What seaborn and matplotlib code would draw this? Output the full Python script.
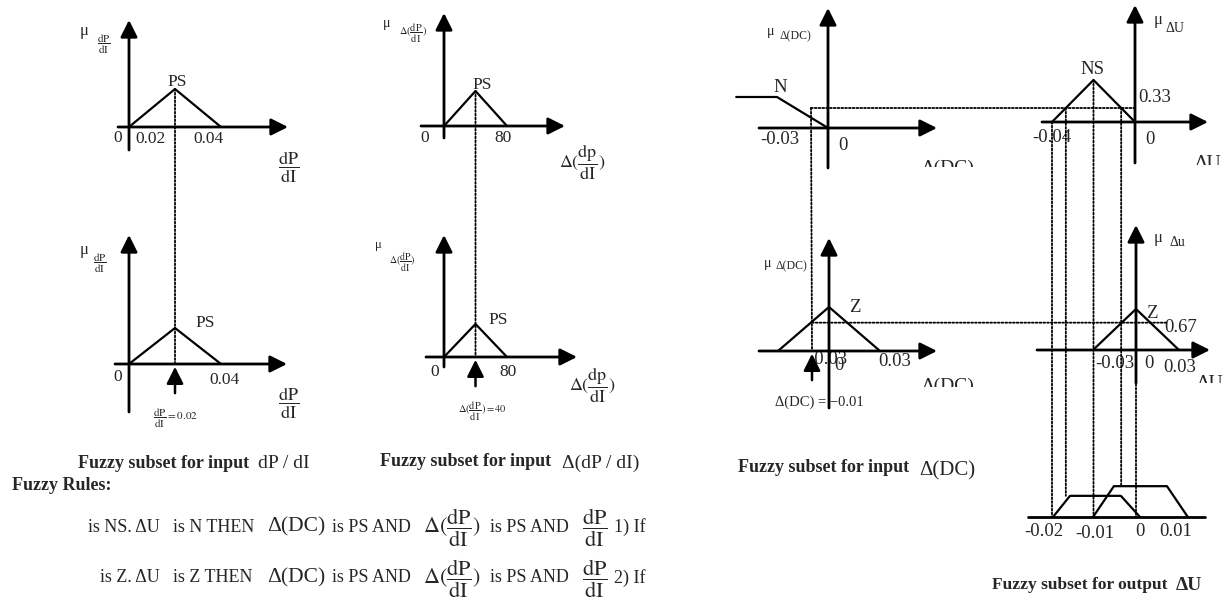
import numpy as np
import seaborn as sns
import matplotlib.pyplot as plt
from matplotlib.patches import ConnectionPatch
from matplotlib.transforms import blended_transform_factory

# membership functions (value, degree)
dpdi_x = [0, 0.02, 0.04]
dpdi_mu = [0, 1, 0]
ddpdi_x = [0, 40, 80]
ddpdi_mu = [0, 1, 0]
dc_n_x = [-0.054, -0.03, 0]
dc_n_mu = [1, 1, 0]
dc_z_x = [-0.03, 0, 0.03]
dc_z_mu = [0, 1, 0]
du_ns_x = [-0.04, -0.02, 0]
du_ns_mu = [0, 1, 0]
du_z_x = [-0.03, 0, 0.03]
du_z_mu = [0, 1, 0]
# clipped output sets (bottom right)
out1_x = [-0.02, -0.0161, -0.0044, 0]
out1_mu = [0, 0.46, 0.46, 0]
out2_x = [-0.0108, -0.006, 0.0062, 0.011]
out2_mu = [0, 0.67, 0.67, 0]
out_ticks = [-0.02, -0.01, 0, 0.01]

# crisp inputs
dpdi_in = 0.02
ddpdi_in = 40
dc_in = -0.01
z_line_end = 0.022

ns_level = np.interp(dc_in, dc_n_x, dc_n_mu)   # 0.33
z_level = np.interp(dc_in, dc_z_x, dc_z_mu)    # 0.67

sns.set_style('white')
plt.rcParams['font.family'] = ['Liberation Serif', 'DejaVu Serif']
plt.rcParams['mathtext.fontset'] = 'stix'

W, H = 1226, 614
fig = plt.figure(figsize=(W / 100, H / 100), dpi=100)
ov = fig.add_axes([0, 0, 1, 1])
ov.set_xlim(0, W)
ov.set_ylim(H, 0)
ov.axis('off')


def panel(box, origin, sx, sy, xs, ys):
    l, t, r, b = box
    ax = fig.add_axes([l / W, 1 - b / H, (r - l) / W, (b - t) / H])
    sns.lineplot(x=xs, y=ys, ax=ax, sort=False, estimator=None,
                 color='black', linewidth=1.6)
    ox, oy = origin
    ax.set_xlim((l - ox) / sx, (r - ox) / sx)
    ax.set_ylim((oy - b) / sy, (oy - t) / sy)
    ax.axis('off')
    return ax


head = '-|>,head_length=0.6,head_width=0.3'


def axis_arrow(x0, y0, x1, y1):
    ov.annotate('', xy=(x1, y1), xytext=(x0, y0),
                arrowprops=dict(arrowstyle=head, mutation_scale=17, lw=2,
                                color='black', shrinkA=0, shrinkB=0))


def input_arrow(ax, x):
    ax.annotate('', xy=(x, 0), xytext=(0, -21), textcoords='offset points',
                arrowprops=dict(arrowstyle=head, mutation_scale=17, lw=1.8,
                                color='black', shrinkA=0, shrinkB=2),
                annotation_clip=False)


def dotted(xyA, trA, xyB, trB):
    fig.add_artist(ConnectionPatch(xyA=xyA, coordsA=trA, xyB=xyB, coordsB=trB,
                                   linestyle=(0, (1, 1.1)), lw=1.3, color='black'))


def t(x, y, s, fs, **kw):
    kw.setdefault('ha', 'center')
    kw.setdefault('va', 'center')
    return ov.text(x, y, s, fontsize=fs, **kw)


F = r'$\dfrac{\mathrm{dP}}{\mathrm{dI}}$'
DF = r'$\Delta(\dfrac{\mathrm{dP}}{\mathrm{dI}})$'
DFp = r'$\Delta(\dfrac{\mathrm{dp}}{\mathrm{dI}})$'

# ---------- panels ----------
ax1 = panel((60, 0, 330, 200), (129, 127), 2300, 38, dpdi_x, dpdi_mu)
ax3 = panel((60, 215, 330, 430), (129, 364), 2300, 36, dpdi_x, dpdi_mu)
ax2 = panel((360, 0, 640, 200), (444, 126), 0.7875, 35, ddpdi_x, ddpdi_mu)
ax4 = panel((360, 215, 640, 430), (444, 357), 0.7875, 33, ddpdi_x, ddpdi_mu)
ax5 = panel((700, 0, 1000, 167), (828, 128), 1700, 31, dc_n_x, dc_n_mu)
ax6 = panel((1000, 0, 1226, 165), (1135, 122), 2075, 42, du_ns_x, du_ns_mu)
ax7 = panel((700, 200, 1000, 387), (829, 351), 1700, 44, dc_z_x, dc_z_mu)
ax8 = panel((1000, 200, 1226, 383), (1136, 350), 1433, 41, du_z_x, du_z_mu)
ax9 = panel((1000, 440, 1226, 560), (1140, 517), 4350, 46, out1_x, out1_mu)
sns.lineplot(x=out2_x, y=out2_mu, ax=ax9, sort=False, estimator=None,
             color='black', linewidth=1.6)

# axes with arrow heads
axis_arrow(118, 127, 288, 127); axis_arrow(129, 150, 129, 20)
axis_arrow(421, 126, 565, 126); axis_arrow(444, 138, 444, 13)
axis_arrow(115, 364, 287, 364); axis_arrow(129, 412, 129, 235)
axis_arrow(426, 357, 577, 357); axis_arrow(444, 367, 444, 235)
axis_arrow(759, 128, 937, 128); axis_arrow(828, 168, 828, 8)
axis_arrow(1042, 122, 1208, 122); axis_arrow(1135, 163, 1135, 5)
axis_arrow(759, 351, 937, 351); axis_arrow(829, 408, 829, 238)
axis_arrow(1037, 350, 1210, 350); axis_arrow(1136, 383, 1136, 225)
ov.plot([1028, 1205], [517, 517], color='black', lw=2)

# crisp input arrows
input_arrow(ax3, dpdi_in)
input_arrow(ax4, ddpdi_in)
input_arrow(ax7, dc_in)

# projection lines
dotted((dpdi_in, np.interp(dpdi_in, dpdi_x, dpdi_mu)), ax1.transData,
       (dpdi_in, 0), ax3.transData)
dotted((ddpdi_in, np.interp(ddpdi_in, ddpdi_x, ddpdi_mu)), ax2.transData,
       (ddpdi_in, 0), ax4.transData)
tr56 = blended_transform_factory(ax5.transData, ax6.transData)
tr78 = blended_transform_factory(ax7.transData, ax8.transData)
tr69 = blended_transform_factory(ax6.transData, ax9.transData)
tr89 = blended_transform_factory(ax8.transData, ax9.transData)
dotted((dc_in, ns_level), tr56, (0, ns_level), ax6.transData)
dotted((dc_in, ns_level), tr56, (dc_in, 0), ax7.transData)
dotted((dc_in, z_level), tr78, (z_line_end, z_level), ax8.transData)

ns_left = du_ns_x[0] + ns_level * (du_ns_x[1] - du_ns_x[0])
ns_right = du_ns_x[2] - ns_level * (du_ns_x[2] - du_ns_x[1])
dotted((du_ns_x[0], 0), ax6.transData, (du_ns_x[0], 0), tr69)
dotted((ns_left, ns_level), ax6.transData, (ns_left, out1_mu[1]), tr69)
dotted((du_ns_x[1], 1), ax6.transData, (du_ns_x[1], 0), tr69)
dotted((ns_right, ns_level), ax6.transData, (ns_right, out2_mu[1]), tr69)
dotted((0, 0), ax8.transData, (0, 0), tr89)

# ---------- labels ----------
# dP/dI top
t(84, 31, 'μ', 12); t(104, 44, F, 8)
t(177, 82, 'PS', 12.5)
t(118, 138, '0', 12.5); t(150, 139, '0.02', 12.5); t(208, 139, '0.04', 12.5)
t(289, 167, F, 13)
# dP/dI bottom
t(84, 250, 'μ', 12); t(100, 263, F, 8)
t(205, 323, 'PS', 12.5)
t(118, 377, '0', 12.5); t(225, 380, '0.04', 12.5)
t(176, 418, r'$\dfrac{\mathrm{dP}}{\mathrm{dI}}\mathrm{=0.02}$', 8)
t(289, 403, F, 13)
# delta dP/dI top
t(387, 23, 'μ', 10); t(413, 33, DF, 7.5)
t(482, 85, 'PS', 12.5)
t(425, 138, '0', 12.5); t(503, 138, '80', 12.5)
t(582, 162, DFp, 13)
# delta dP/dI bottom
t(378, 245, 'μ', 9); t(402, 262, DF, 7)
t(498, 320, 'PS', 12.5)
t(435, 372, '0', 12.5); t(508, 372, '80', 12.5)
t(482, 411, r'$\Delta(\dfrac{\mathrm{dP}}{\mathrm{dI}})\mathrm{=40}$', 7.5)
t(592, 385, DFp, 13)
# delta DC, N
t(771, 32, 'μ', 10); t(795, 36, 'Δ(DC)', 8.5)
t(780, 88, 'N', 13.5)
t(780, 140, '-0.03', 13.5); t(843, 145, '0', 13.5)
ax5.text(948, 160, 'Δ(DC)', transform=ov.transData, fontsize=14,
         ha='center', va='top', clip_on=True)
# delta U, NS
t(1158, 20, 'μ', 12); t(1175, 28, 'ΔU', 10)
t(1092, 70, 'NS', 13.5)
t(1155, 98, '0.33', 13.5)
t(1052, 138, '-0.04', 13.5); t(1150, 140, '0', 13.5)
ax6.text(1208, 155, 'ΔU', transform=ov.transData, fontsize=14,
         ha='center', va='top', clip_on=True)
# delta DC, Z
t(768, 263, 'μ', 10); t(791, 266, 'Δ(DC)', 8.5)
t(855, 307, 'Z', 13.5)
t(828, 360, '-0.03', 13.5, zorder=0); t(839, 366, '0', 13.5)
t(895, 362, '0.03', 13.5)
ax7.text(948, 378, 'Δ(DC)', transform=ov.transData, fontsize=14,
         ha='center', va='top', clip_on=True)
t(819, 402, 'Δ(DC) = −0.01', 10.5)
# delta U, Z
t(1158, 238, 'μ', 12); t(1177, 243, 'Δu', 10)
t(1152, 313, 'Z', 13.5)
t(1181, 327, '0.67', 13.5)
t(1115, 363, '-0.03', 13.5); t(1149, 363, '0', 13.5); t(1180, 367, '0.03', 13.5)
ax8.text(1210, 375, 'ΔU', transform=ov.transData, fontsize=14,
         ha='center', va='top', clip_on=True)
# output axis ticks
for v, px, py in zip(out_ticks, [1044, 1095, 1140, 1176], [532, 534, 532, 531]):
    t(px, py, f'{v:g}', 13.5)

# captions
bold = dict(fontweight='bold', ha='left')
t(78, 463, 'Fuzzy subset for input', 13, **bold)
t(258, 463, 'dP / dI', 14, ha='left')
t(380, 462, 'Fuzzy subset for input', 13, **bold)
t(562, 463, 'Δ(dP / dI)', 14, ha='left')
t(12, 485, 'Fuzzy Rules:', 13, **bold)
t(738, 468, 'Fuzzy subset for input', 13, **bold)
t(919, 471, 'Δ(DC)', 15, ha='left')
t(992, 585, 'Fuzzy subset for output', 12.5, **bold)
t(1176, 585, 'ΔU', 14, **bold)

# rules
for y, pre, mid in [(527, 'is NS. ΔU', 'is N THEN'), (578, 'is Z. ΔU', 'is Z THEN')]:
    t(160, y, pre, 13, ha='right')
    t(173, y, mid, 13, ha='left')
    t(267, y, 'Δ(DC)', 15.5, ha='left')
    t(332, y, 'is PS AND', 13, ha='left')
    t(423, y + 1, DF, 16, ha='left')
    t(490, y, 'is PS AND', 13, ha='left')
    t(582, y + 1, F, 16, ha='left')
t(614, 527, '1) If', 13, ha='left')
t(614, 578, '2) If', 13, ha='left')

fig.savefig('out.png', dpi=100)
